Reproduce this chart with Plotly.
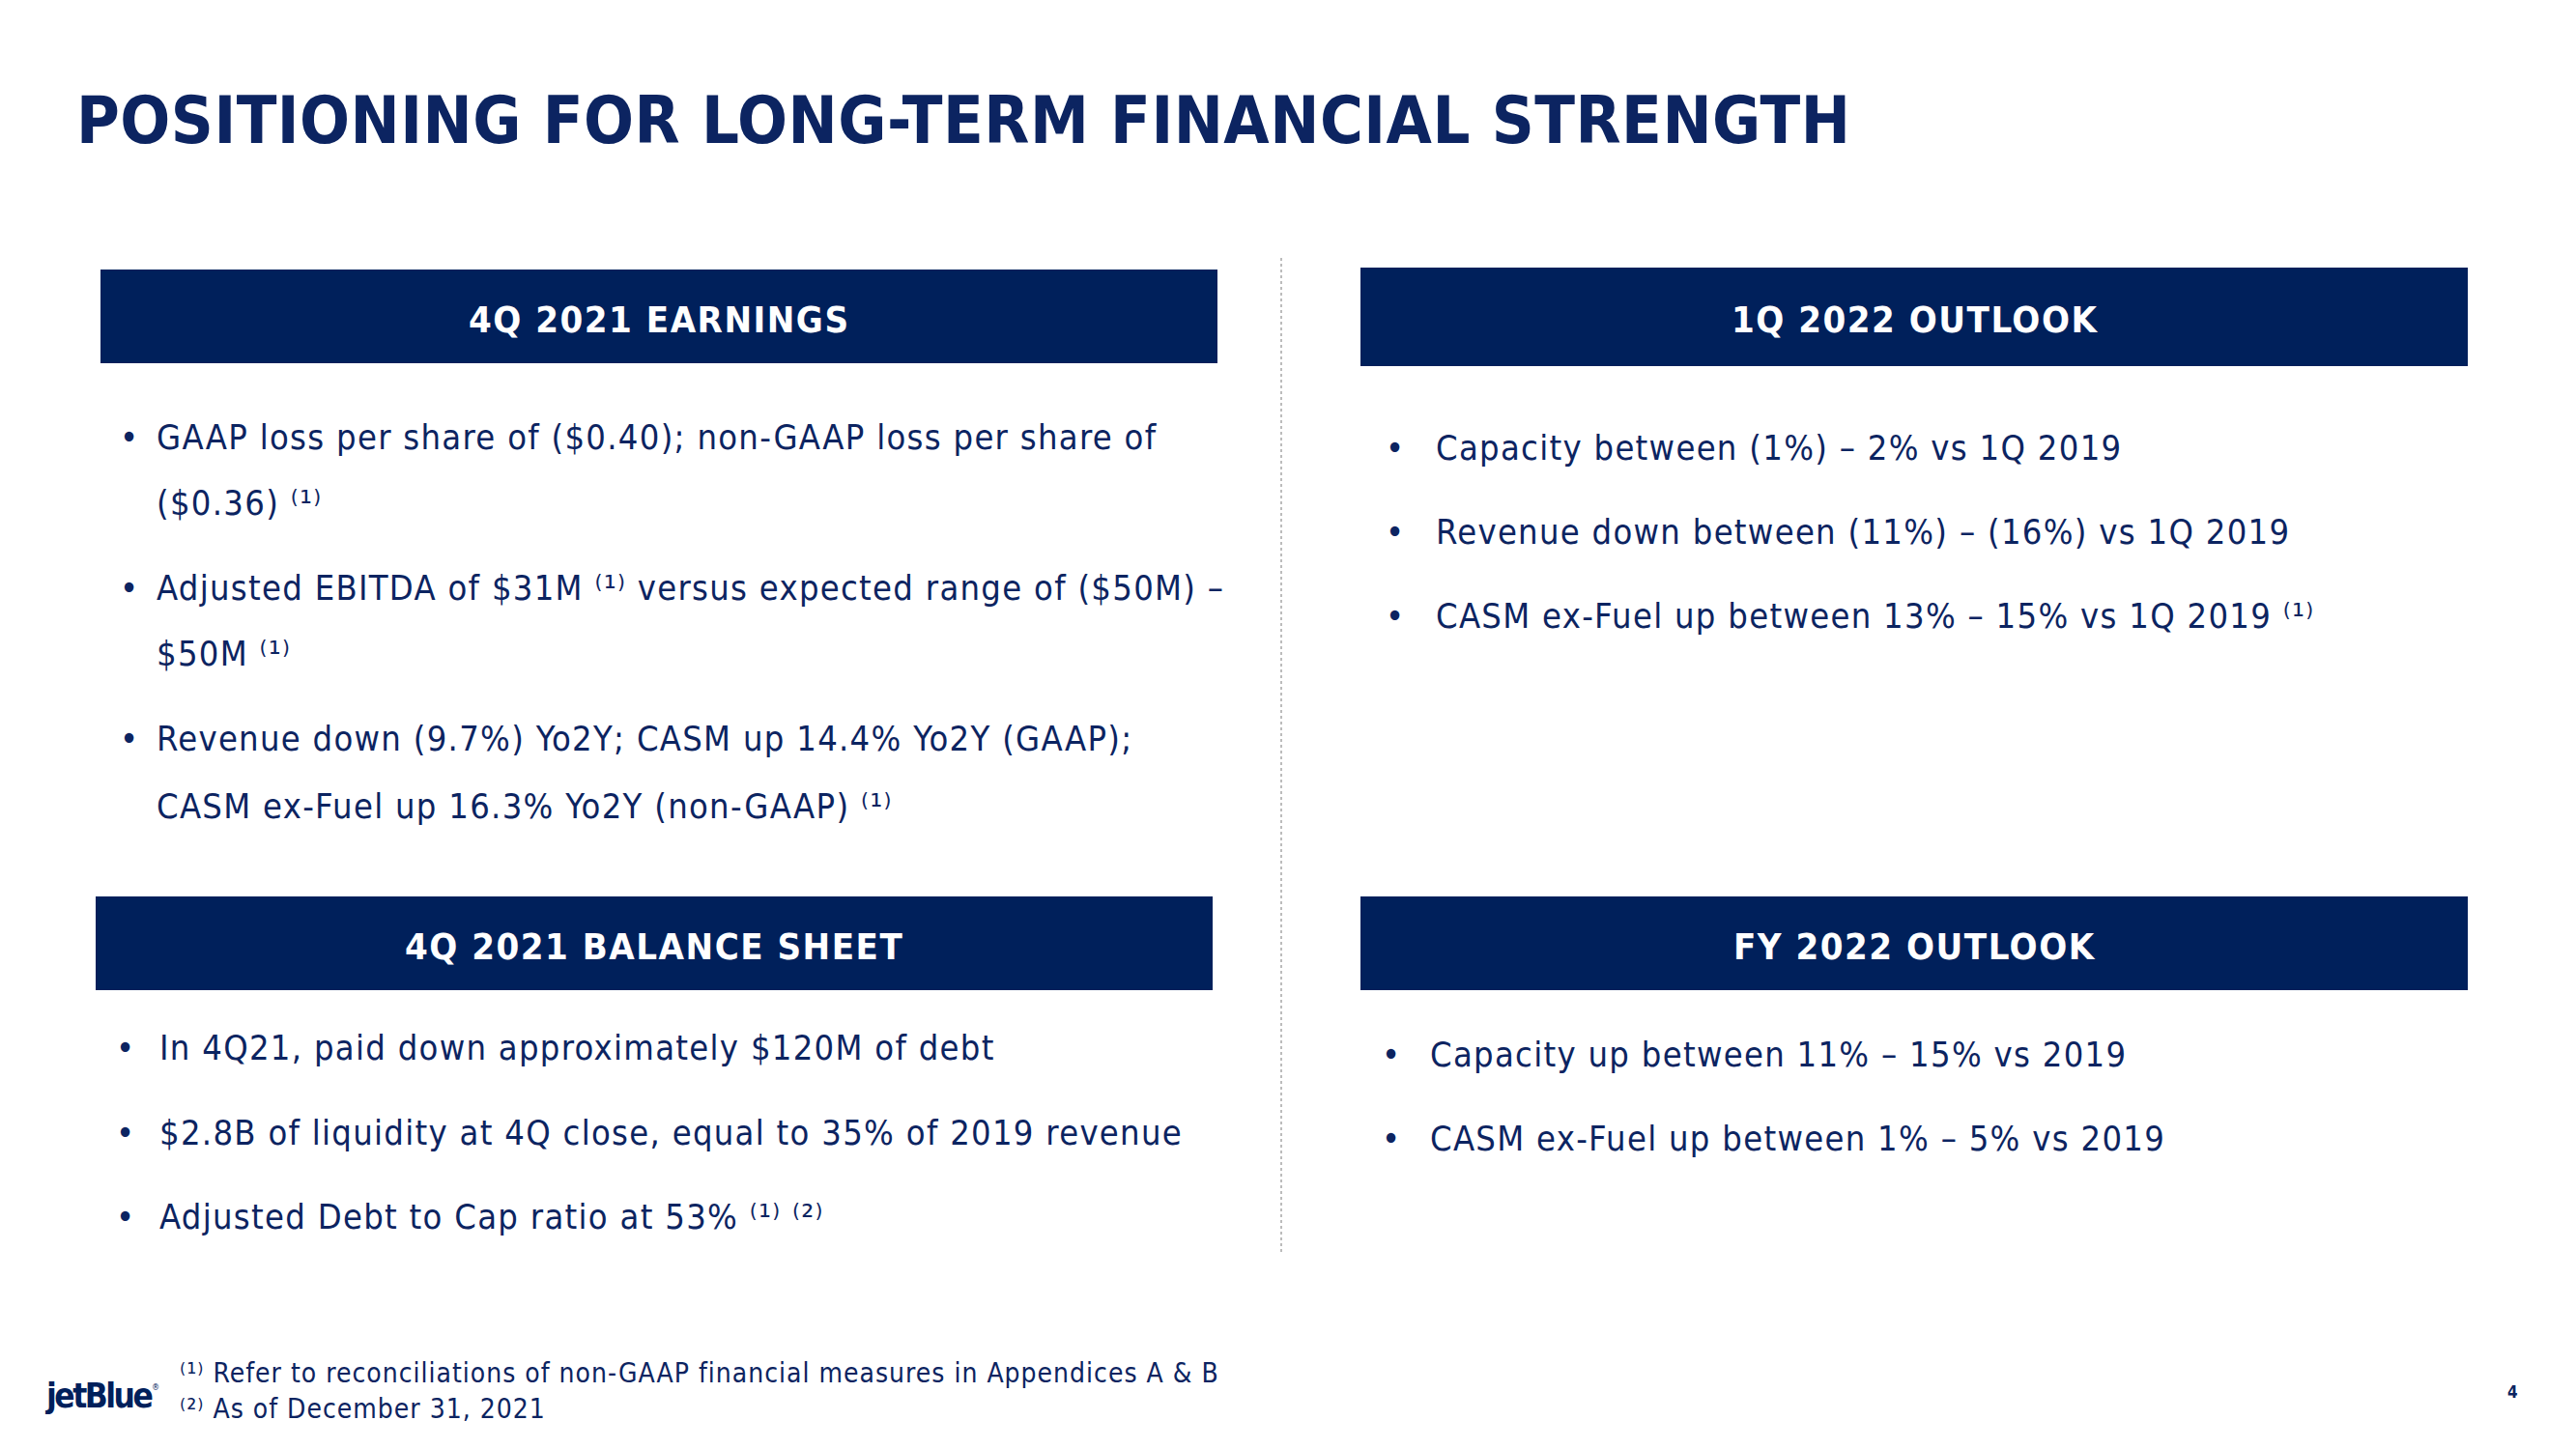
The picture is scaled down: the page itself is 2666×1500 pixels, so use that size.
import plotly.graph_objects as go

W, H = 2666, 1500
NAVY_BOX = "#00205B"
NAVY_TXT = "#0C2461"
FONT = "DejaVu Sans Condensed, Liberation Sans Narrow, Roboto, sans-serif"

title_text = "POSITIONING FOR LONG-TERM FINANCIAL STRENGTH"

section_titles = ["4Q 2021 EARNINGS", "1Q 2022 OUTLOOK", "4Q 2021 BALANCE SHEET", "FY 2022 OUTLOOK"]

earnings_lines = [
    "GAAP loss per share of ($0.40); non-GAAP loss per share of",
    "($0.36) ⁽¹⁾",
    "Adjusted EBITDA of $31M ⁽¹⁾ versus expected range of ($50M) –",
    "$50M ⁽¹⁾",
    "Revenue down (9.7%) Yo2Y; CASM up 14.4% Yo2Y (GAAP);",
    "CASM ex-Fuel up 16.3% Yo2Y (non-GAAP) ⁽¹⁾",
]
earnings_bullet = [True, False, True, False, True, False]

q1_outlook = [
    "Capacity between (1%) – 2% vs 1Q 2019",
    "Revenue down between (11%) – (16%) vs 1Q 2019",
    "CASM ex-Fuel up between 13% – 15% vs 1Q 2019 ⁽¹⁾",
]

balance_sheet = [
    "In 4Q21, paid down approximately $120M of debt",
    "$2.8B of liquidity at 4Q close, equal to 35% of 2019 revenue",
    "Adjusted Debt to Cap ratio at 53% ⁽¹⁾ ⁽²⁾",
]

fy_outlook = [
    "Capacity up between 11% – 15% vs 2019",
    "CASM ex-Fuel up between 1% – 5% vs 2019",
]

footnotes = [
    "⁽¹⁾ Refer to reconciliations of non-GAAP financial measures in Appendices A & B",
    "⁽²⁾ As of December 31, 2021",
]

page_number = "4"
logo_text = "jetBlue"


def sp(t, px):
    return f'<span style="letter-spacing:{px}px">{t}</span>'


fig = go.Figure()
fig.add_trace(go.Scatter(x=[0, W], y=[0, H], mode="markers",
                         marker=dict(opacity=0), hoverinfo="skip", showlegend=False))

shapes = []
annotations = []

# title
annotations.append(dict(x=77, y=124, text=sp(f"<b>{title_text}</b>", 0.5), xanchor="left", yanchor="middle",
                        font=dict(family=FONT, size=68, color=NAVY_TXT)))

# header boxes
boxes = [(104, 1260, 279, 376), (1408, 2554, 277, 379), (99, 1255, 928, 1025), (1408, 2554, 928, 1025)]
for (x0, x1, y0, y1), t in zip(boxes, section_titles):
    shapes.append(dict(type="rect", x0=x0, x1=x1, y0=y0, y1=y1, fillcolor=NAVY_BOX, line=dict(width=0)))
    annotations.append(dict(x=(x0 + x1) / 2, y=(y0 + y1) / 2 + 3, text=sp(f"<b>{t}</b>", 1.5),
                            xanchor="center", yanchor="middle",
                            font=dict(family=FONT, size=38, color="white")))

# divider
shapes.append(dict(type="line", x0=1326, x1=1326, y0=267, y1=1296,
                   line=dict(color="#A6A6A6", width=1.5, dash="3px,3px")))

BODY = 36
LS = 1.3


def add_lines(lines, bullets, bx, tx, ys):
    for t, b, y in zip(lines, bullets, ys):
        if b:
            annotations.append(dict(x=bx, y=y, text="•", xanchor="left", yanchor="middle",
                                    font=dict(family=FONT, size=BODY, color=NAVY_TXT)))
        annotations.append(dict(x=tx, y=y, text=sp(t, LS), xanchor="left", yanchor="middle",
                                font=dict(family=FONT, size=BODY, color=NAVY_TXT)))


add_lines(earnings_lines, earnings_bullet, 122, 160, [452, 520, 608, 676, 764, 834])
add_lines(q1_outlook, [True] * 3, 1432, 1484, [463, 550, 637])
add_lines(balance_sheet, [True] * 3, 118, 163, [1084, 1172, 1259])
add_lines(fy_outlook, [True] * 2, 1428, 1478, [1091, 1178])

# footnotes
for t, y in zip(footnotes, [1421, 1458]):
    annotations.append(dict(x=184, y=y, text=sp(t, 1.0), xanchor="left", yanchor="middle",
                            font=dict(family=FONT, size=28, color=NAVY_TXT)))

# logo
annotations.append(dict(x=44, y=1445, text=sp(f"<b>{logo_text}</b>", -2.5), xanchor="left", yanchor="middle",
                        font=dict(family=FONT, size=35, color=NAVY_BOX)))
annotations.append(dict(x=155, y=1436, text="®", xanchor="left", yanchor="middle",
                        font=dict(family=FONT, size=9, color=NAVY_BOX)))
# page number
annotations.append(dict(x=2600, y=1441, text=f"<b>{page_number}</b>", xanchor="center", yanchor="middle",
                        font=dict(family=FONT, size=17, color=NAVY_TXT)))

for a in annotations:
    a.update(xref="x", yref="y", showarrow=False)

fig.update_layout(
    width=W, height=H, margin=dict(l=0, r=0, t=0, b=0),
    paper_bgcolor="white", plot_bgcolor="white",
    xaxis=dict(range=[0, W], visible=False, fixedrange=True),
    yaxis=dict(range=[H, 0], visible=False, fixedrange=True),
    shapes=shapes, annotations=annotations, showlegend=False,
)

fig.write_html("out.html", config={"displayModeBar": False},
               post_script="document.body.style.margin='0';")
